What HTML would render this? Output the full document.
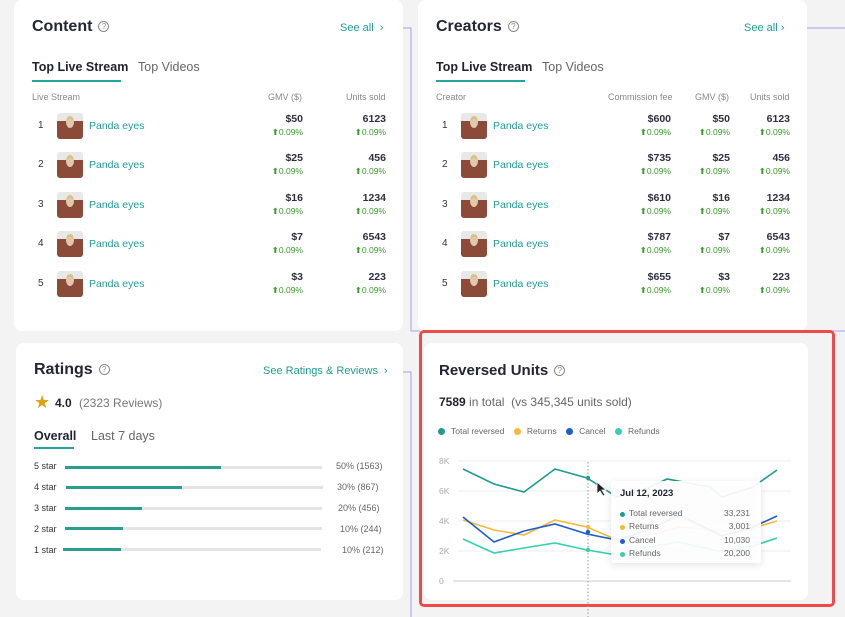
<!DOCTYPE html>
<html><head><meta charset="utf-8"><style>
*{margin:0;padding:0;box-sizing:border-box}
body{width:845px;height:617px;background:#f3f3f4;position:relative;overflow:hidden;font-family:"Liberation Sans",sans-serif;color:#1f2330}
.card{position:absolute;background:#fff;border-radius:8px}
.a{position:absolute;white-space:nowrap}
.h{font-size:16px;font-weight:600;color:#232634}
.q{display:inline-block;width:11px;height:11px;border:1px solid #888;border-radius:50%;font-size:8px;line-height:9px;text-align:center;color:#888;vertical-align:2px;margin-left:6px;font-weight:400}
.link{font-size:11px;color:#1f9d96}
.tab{font-size:12.5px;color:#1f2330}
.tab2{font-size:12.5px;color:#666}
.ul{position:absolute;height:2px;background:#22a7a0}
.th{font-size:9px;color:#888}
.rk{font-size:10px;color:#333}
.av{position:absolute;width:26px;height:26px;border-radius:3px;background:linear-gradient(#e8e8e8 0 30%,#8c4a38 30% 100%)}
.av::after{content:"";position:absolute;left:9px;top:3px;width:8px;height:9px;border-radius:50%;background:#e0c8b0;border-top:3px solid #d9c27a}
.nm{font-size:10.5px;color:#1f9d96}
.v{font-size:10.5px;color:#2e3040;text-align:right;font-weight:600}
.p{font-size:8.5px;color:#3a9d2a;text-align:right}
.lv{font-size:9px;color:#333}
.bar{position:absolute;height:3px;background:#e4e4e4}
.bar i{display:block;height:3px;background:#2a9d93}
.pc{font-size:9px;color:#666}
.leg{font-size:8.5px;color:#666}
.dot{display:inline-block;width:7px;height:7px;border-radius:50%;margin-right:6px;vertical-align:-1px}
.yl{font-size:8.5px;color:#aaa}
</style></head><body>

<!-- connector lines -->
<svg class="a" style="left:0;top:0" width="845" height="617">
<polyline points="392,28 411,28 411,331 420,331" fill="none" stroke="#a99cf0" stroke-width="1"/>
<polyline points="388,372 411,372 411,617" fill="none" stroke="#a99cf0" stroke-width="1"/>
<polyline points="787,28 845,28" fill="none" stroke="#a99cf0" stroke-width="1"/>
<line x1="808" y1="331" x2="845" y2="331" stroke="#a99cf0"/>
</svg>

<!-- Content card -->
<div class="card" style="left:14px;top:0;width:389px;height:331px"></div>
<div class="a h" style="left:32px;top:18px">Content<span class="q">?</span></div>
<div class="a link" style="left:340px;top:22px">See all&nbsp;&nbsp;›</div>
<div class="a tab" style="left:32px;top:60px;font-weight:600">Top Live Stream</div>
<div class="a tab2" style="left:138px;top:60px">Top Videos</div>
<div class="ul" style="left:32px;top:80px;width:89px"></div>
<div class="a th" style="left:32px;top:92px">Live Stream</div>
<div class="a th" style="left:268px;top:92px">GMV ($)</div>
<div class="a th" style="left:346px;top:92px">Units sold</div>

<!-- Creators card -->
<div class="card" style="left:418px;top:0;width:389px;height:331px"></div>
<div class="a h" style="left:436px;top:18px">Creators<span class="q">?</span></div>
<div class="a link" style="left:744px;top:22px">See all&nbsp;›</div>
<div class="a tab" style="left:436px;top:60px;font-weight:600">Top Live Stream</div>
<div class="a tab2" style="left:542px;top:60px">Top Videos</div>
<div class="ul" style="left:436px;top:80px;width:89px"></div>
<div class="a th" style="left:436px;top:92px">Creator</div>
<div class="a th" style="left:608px;top:92px">Commission fee</div>
<div class="a th" style="left:695px;top:92px">GMV ($)</div>
<div class="a th" style="left:750px;top:92px">Units sold</div>

<!-- rows -->
<div class="a" style="left:0;top:113px;width:845px;height:30px">
<div class="a rk" style="left:38px;top:7px">1</div><div class="av" style="left:57px;top:0"></div><div class="a nm" style="left:89px;top:7px">Panda eyes</div>
<div class="a v" style="right:542px;top:0">$50</div><div class="a p" style="right:542px;top:14px">⬆0.09%</div>
<div class="a v" style="right:459px;top:0">6123</div><div class="a p" style="right:459px;top:14px">⬆0.09%</div>
<div class="a rk" style="left:442px;top:7px">1</div><div class="av" style="left:461px;top:0"></div><div class="a nm" style="left:493px;top:7px">Panda eyes</div>
<div class="a v" style="right:174px;top:0">$600</div><div class="a p" style="right:174px;top:14px">⬆0.09%</div>
<div class="a v" style="right:115px;top:0">$50</div><div class="a p" style="right:115px;top:14px">⬆0.09%</div>
<div class="a v" style="right:55px;top:0">6123</div><div class="a p" style="right:55px;top:14px">⬆0.09%</div>
</div>
<div class="a" style="left:0;top:152px;width:845px;height:30px">
<div class="a rk" style="left:38px;top:7px">2</div><div class="av" style="left:57px;top:0"></div><div class="a nm" style="left:89px;top:7px">Panda eyes</div>
<div class="a v" style="right:542px;top:0">$25</div><div class="a p" style="right:542px;top:14px">⬆0.09%</div>
<div class="a v" style="right:459px;top:0">456</div><div class="a p" style="right:459px;top:14px">⬆0.09%</div>
<div class="a rk" style="left:442px;top:7px">2</div><div class="av" style="left:461px;top:0"></div><div class="a nm" style="left:493px;top:7px">Panda eyes</div>
<div class="a v" style="right:174px;top:0">$735</div><div class="a p" style="right:174px;top:14px">⬆0.09%</div>
<div class="a v" style="right:115px;top:0">$25</div><div class="a p" style="right:115px;top:14px">⬆0.09%</div>
<div class="a v" style="right:55px;top:0">456</div><div class="a p" style="right:55px;top:14px">⬆0.09%</div>
</div>
<div class="a" style="left:0;top:192px;width:845px;height:30px">
<div class="a rk" style="left:38px;top:7px">3</div><div class="av" style="left:57px;top:0"></div><div class="a nm" style="left:89px;top:7px">Panda eyes</div>
<div class="a v" style="right:542px;top:0">$16</div><div class="a p" style="right:542px;top:14px">⬆0.09%</div>
<div class="a v" style="right:459px;top:0">1234</div><div class="a p" style="right:459px;top:14px">⬆0.09%</div>
<div class="a rk" style="left:442px;top:7px">3</div><div class="av" style="left:461px;top:0"></div><div class="a nm" style="left:493px;top:7px">Panda eyes</div>
<div class="a v" style="right:174px;top:0">$610</div><div class="a p" style="right:174px;top:14px">⬆0.09%</div>
<div class="a v" style="right:115px;top:0">$16</div><div class="a p" style="right:115px;top:14px">⬆0.09%</div>
<div class="a v" style="right:55px;top:0">1234</div><div class="a p" style="right:55px;top:14px">⬆0.09%</div>
</div>
<div class="a" style="left:0;top:231px;width:845px;height:30px">
<div class="a rk" style="left:38px;top:7px">4</div><div class="av" style="left:57px;top:0"></div><div class="a nm" style="left:89px;top:7px">Panda eyes</div>
<div class="a v" style="right:542px;top:0">$7</div><div class="a p" style="right:542px;top:14px">⬆0.09%</div>
<div class="a v" style="right:459px;top:0">6543</div><div class="a p" style="right:459px;top:14px">⬆0.09%</div>
<div class="a rk" style="left:442px;top:7px">4</div><div class="av" style="left:461px;top:0"></div><div class="a nm" style="left:493px;top:7px">Panda eyes</div>
<div class="a v" style="right:174px;top:0">$787</div><div class="a p" style="right:174px;top:14px">⬆0.09%</div>
<div class="a v" style="right:115px;top:0">$7</div><div class="a p" style="right:115px;top:14px">⬆0.09%</div>
<div class="a v" style="right:55px;top:0">6543</div><div class="a p" style="right:55px;top:14px">⬆0.09%</div>
</div>
<div class="a" style="left:0;top:271px;width:845px;height:30px">
<div class="a rk" style="left:38px;top:7px">5</div><div class="av" style="left:57px;top:0"></div><div class="a nm" style="left:89px;top:7px">Panda eyes</div>
<div class="a v" style="right:542px;top:0">$3</div><div class="a p" style="right:542px;top:14px">⬆0.09%</div>
<div class="a v" style="right:459px;top:0">223</div><div class="a p" style="right:459px;top:14px">⬆0.09%</div>
<div class="a rk" style="left:442px;top:7px">5</div><div class="av" style="left:461px;top:0"></div><div class="a nm" style="left:493px;top:7px">Panda eyes</div>
<div class="a v" style="right:174px;top:0">$655</div><div class="a p" style="right:174px;top:14px">⬆0.09%</div>
<div class="a v" style="right:115px;top:0">$3</div><div class="a p" style="right:115px;top:14px">⬆0.09%</div>
<div class="a v" style="right:55px;top:0">223</div><div class="a p" style="right:55px;top:14px">⬆0.09%</div>
</div>

<!-- Ratings card -->
<div class="card" style="left:16px;top:343px;width:387px;height:257px"></div>
<div class="a h" style="left:34px;top:361px">Ratings<span class="q">?</span></div>
<div class="a link" style="left:263px;top:365px">See Ratings &amp; Reviews&nbsp;&nbsp;›</div>
<div class="a" style="left:34px;top:392px;font-size:18px;color:#e0a010">★</div>
<div class="a" style="left:55px;top:396px;font-size:12px;font-weight:600">4.0</div>
<div class="a" style="left:79px;top:396px;font-size:12px;color:#777">(2323 Reviews)</div>
<div class="a tab" style="left:34px;top:429px;font-weight:600">Overall</div>
<div class="a tab2" style="left:91px;top:429px">Last 7 days</div>
<div class="ul" style="left:34px;top:447px;width:40px"></div>
<div class="a lv" style="left:34px;top:461px">5 star</div><div class="bar" style="left:65px;top:466px;width:257px"><i style="width:156px"></i></div><div class="a pc" style="left:336px;top:461px">50% (1563)</div>
<div class="a lv" style="left:34px;top:482px">4 star</div><div class="bar" style="left:66px;top:486px;width:257px"><i style="width:116px"></i></div><div class="a pc" style="left:337px;top:482px">30% (867)</div>
<div class="a lv" style="left:34px;top:503px">3 star</div><div class="bar" style="left:65px;top:507px;width:257px"><i style="width:77px"></i></div><div class="a pc" style="left:338px;top:503px">20% (456)</div>
<div class="a lv" style="left:34px;top:524px">2 star</div><div class="bar" style="left:65px;top:527px;width:257px"><i style="width:58px"></i></div><div class="a pc" style="left:340px;top:524px">10% (244)</div>
<div class="a lv" style="left:34px;top:545px">1 star</div><div class="bar" style="left:63px;top:548px;width:258px"><i style="width:58px"></i></div><div class="a pc" style="left:342px;top:545px">10% (212)</div>

<!-- Reversed units card -->
<div class="card" style="left:424px;top:343px;width:384px;height:257px"></div>
<div class="a" style="left:419px;top:330px;width:416px;height:277px;border:3px solid #ef4a4a;border-radius:5px"></div>
<div class="a h" style="left:439px;top:362px;font-size:15px">Reversed Units<span class="q">?</span></div>
<div class="a" style="left:439px;top:395px;font-size:12px"><b style="font-weight:600">7589</b> <span style="color:#666">in total&nbsp; (vs 345,345 units sold)</span></div>
<div class="a leg" style="left:438px;top:426px"><span class="dot" style="background:#1f9b8f"></span>Total reversed&nbsp;&nbsp;&nbsp;&nbsp;<span class="dot" style="background:#f6b93b"></span>Returns&nbsp;&nbsp;&nbsp;&nbsp;<span class="dot" style="background:#1d5fc9"></span>Cancel&nbsp;&nbsp;&nbsp;&nbsp;<span class="dot" style="background:#35d0b0"></span>Refunds</div>
<div class="a yl" style="left:439px;top:456px">8K</div>
<div class="a yl" style="left:439px;top:486px">6K</div>
<div class="a yl" style="left:439px;top:516px">4K</div>
<div class="a yl" style="left:439px;top:546px">2K</div>
<div class="a yl" style="left:439px;top:576px">0</div>
<svg class="a" style="left:0;top:0" width="845" height="617">
<g stroke="#eeeeee" stroke-width="1">
<line x1="458" y1="461" x2="791" y2="461"/><line x1="458" y1="491" x2="791" y2="491"/>
<line x1="458" y1="521" x2="791" y2="521"/><line x1="458" y1="551" x2="791" y2="551"/>
</g>
<line x1="453" y1="581" x2="791" y2="581" stroke="#e6e6e6" stroke-width="2"/>
<line x1="588" y1="462" x2="588" y2="617" stroke="#999" stroke-dasharray="1.5,2"/>
<g fill="none" stroke-width="1.6">
<polyline stroke="#1f9b8f" points="463,469 494,484 524,492 555,469 587,478 617,497 648,488 667,479 710,487 722,497 753,487 777,470"/>
<polyline stroke="#f6b93b" points="463,520 494,530 524,535 555,520 587,527 617,540 648,535 679,527 710,530 740,532 777,521"/>
<polyline stroke="#1d5fc9" points="463,517 494,542 524,531 555,524 587,534 617,540 648,530 679,515 722,536 753,527 777,516"/>
<polyline stroke="#35d0b0" points="463,539 494,553 524,548 555,543 587,550 617,555 648,547 679,542 722,552 753,546 777,538"/>
</g>
<g><circle cx="588" cy="478" r="2.2" fill="#1f9b8f"/><circle cx="588" cy="527" r="2.2" fill="#f6b93b"/><circle cx="588" cy="532" r="2.2" fill="#1d5fc9"/><circle cx="588" cy="550" r="2.2" fill="#35d0b0"/></g>
<rect x="611" y="481" width="150" height="82" rx="3" fill="#fff" fill-opacity="0.92" style="filter:drop-shadow(0 2px 4px rgba(0,0,0,.12))"/>
<path d="M597,482 l0,12 l3,-3 l3,5 l2,-1 l-3,-5 l4,0 z" fill="#222" stroke="#fff" stroke-width=".8"/>
</svg>
<div class="a" style="left:620px;top:488px;font-size:9.5px;font-weight:600">Jul 12, 2023</div>
<div class="a" style="left:620px;top:507px;width:130px;font-size:8.5px;color:#666;line-height:13.3px">
<div><span class="dot" style="background:#1f9b8f;width:5px;height:5px;margin-right:4px"></span>Total reversed<span style="float:right">33,231</span></div>
<div><span class="dot" style="background:#f6b93b;width:5px;height:5px;margin-right:4px"></span>Returns<span style="float:right">3,001</span></div>
<div><span class="dot" style="background:#1d5fc9;width:5px;height:5px;margin-right:4px"></span>Cancel<span style="float:right">10,030</span></div>
<div><span class="dot" style="background:#35d0b0;width:5px;height:5px;margin-right:4px"></span>Refunds<span style="float:right">20,200</span></div>
</div>
</body></html>
